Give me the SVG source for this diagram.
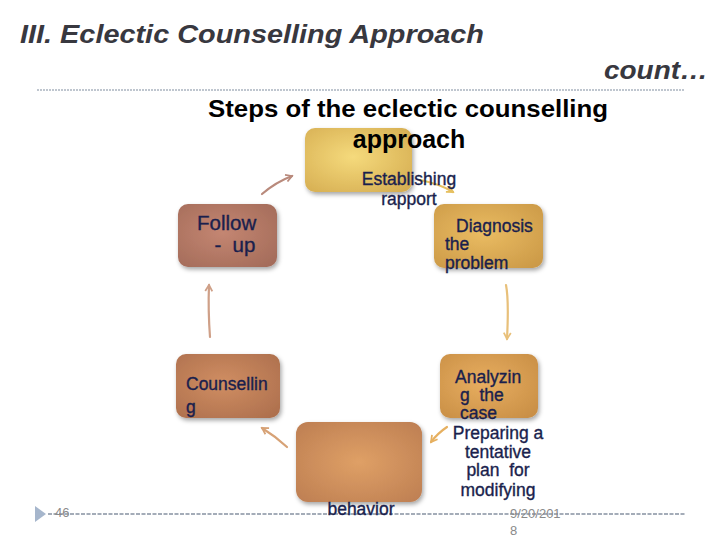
<svg xmlns="http://www.w3.org/2000/svg" width="720" height="540" viewBox="0 0 720 540">
<style>
.title{font-family:"Liberation Sans",Arial,sans-serif;font-weight:bold;font-style:italic;font-size:25px;fill:#38383f}
.sub{font-family:"Liberation Sans",Arial,sans-serif;font-weight:bold;font-size:24px;fill:#000}
.lbl{font-family:"Liberation Sans",Arial,sans-serif;font-size:17.5px;fill:#1a1f4d;stroke:#1a1f4d;stroke-width:0.35}
.foot{font-family:"Liberation Sans",Arial,sans-serif;font-size:13px;fill:#8a8a8a}
.box{filter:url(#sh)}
.conn path{fill:none;stroke-width:2.2;stroke-linecap:round}
</style>
<defs>
<filter id="sh" x="-20%" y="-20%" width="150%" height="150%">
<feDropShadow dx="1.5" dy="2.5" stdDeviation="2" flood-color="#000" flood-opacity="0.35"/>
</filter>
<radialGradient id="gY" cx="0.45" cy="0.45" r="0.7"><stop offset="0" stop-color="#f5da7c"/><stop offset="1" stop-color="#d6ae52"/></radialGradient>
<radialGradient id="gF" cx="0.45" cy="0.45" r="0.7"><stop offset="0" stop-color="#c48672"/><stop offset="1" stop-color="#a46c5a"/></radialGradient>
<radialGradient id="gD" cx="0.45" cy="0.45" r="0.7"><stop offset="0" stop-color="#eabc62"/><stop offset="1" stop-color="#cc9a48"/></radialGradient>
<radialGradient id="gC" cx="0.45" cy="0.45" r="0.7"><stop offset="0" stop-color="#d08e62"/><stop offset="1" stop-color="#ae704e"/></radialGradient>
<radialGradient id="gA" cx="0.45" cy="0.45" r="0.7"><stop offset="0" stop-color="#e8ae60"/><stop offset="1" stop-color="#c98f46"/></radialGradient>
<radialGradient id="gB" cx="0.5" cy="0.5" r="0.7"><stop offset="0" stop-color="#dfa066"/><stop offset="1" stop-color="#bd7e52"/></radialGradient>
<marker id="ah" viewBox="0 0 10 10" refX="8" refY="5" markerWidth="4" markerHeight="4" orient="auto" markerUnits="strokeWidth">
<path d="M1,1 L8,5 L1,9" fill="none" stroke="context-stroke" stroke-width="2"/>
</marker>
</defs>

<text class="title" x="20" y="43" textLength="464" lengthAdjust="spacingAndGlyphs">III. Eclectic Counselling Approach</text>
<text class="title" x="708" y="79" text-anchor="end" textLength="104" lengthAdjust="spacingAndGlyphs">count…</text>
<line x1="37" y1="90" x2="685" y2="90" stroke="#aab4c0" stroke-width="1.5" stroke-dasharray="2,1"/>

<g id="box-top" class="box"><rect x="305" y="128" width="107" height="64" rx="10" fill="url(#gY)"/></g>
<g id="box-follow" class="box"><rect x="178" y="204" width="99" height="63" rx="10" fill="url(#gF)"/></g>
<g id="box-diag" class="box"><rect x="434" y="204" width="109" height="64" rx="10" fill="url(#gD)"/></g>
<g id="box-couns" class="box"><rect x="176" y="354" width="104" height="64" rx="10" fill="url(#gC)"/></g>
<g id="box-anal" class="box"><rect x="440" y="354" width="98" height="64" rx="10" fill="url(#gA)"/></g>
<g id="box-bottom" class="box"><rect x="296" y="422" width="126" height="80" rx="12" fill="url(#gB)"/></g>

<text class="sub" x="408" y="117" text-anchor="middle" textLength="400" lengthAdjust="spacingAndGlyphs">Steps of the eclectic counselling</text>
<text class="sub" x="409" y="148" text-anchor="middle" style="font-size:25px">approach</text>

<g id="connectors" class="conn">
<path d="M262,194 Q276,182 292,176" stroke="#b98a7c" marker-end="url(#ah)"/>
<path d="M420,180 Q440,184 453,192" stroke="#e6c060" marker-end="url(#ah)"/>
<path d="M506,285 Q509,300 507,339" stroke="#e8c07a" marker-end="url(#ah)"/>
<path d="M210,337 Q208,310 209,285" stroke="#cfa088" marker-end="url(#ah)"/>
<path d="M287,447 Q275,436 262,428" stroke="#d7a276" marker-end="url(#ah)"/>
<path d="M447,427 Q438,433 431,442" stroke="#e6b060" marker-end="url(#ah)"/>
</g>

<g id="labels">
<text class="lbl" x="409" y="185" text-anchor="middle">Establishing</text>
<text class="lbl" x="409" y="205" text-anchor="middle">rapport</text>
<text class="lbl" x="197" y="230" style="font-size:20.5px">Follow</text>
<text class="lbl" x="203" y="252" style="font-size:20.5px" xml:space="preserve">  -  up</text>
<text class="lbl" x="456" y="232">Diagnosis</text>
<text class="lbl" x="445" y="250">the</text>
<text class="lbl" x="445" y="269">problem</text>
<text class="lbl" x="186" y="390">Counsellin</text>
<text class="lbl" x="186" y="413">g</text>
<text class="lbl" x="455" y="383">Analyzin</text>
<text class="lbl" x="460" y="401" xml:space="preserve">g  the</text>
<text class="lbl" x="460" y="419">case</text>
<text class="lbl" x="498" y="439" text-anchor="middle">Preparing a</text>
<text class="lbl" x="498" y="458" text-anchor="middle">tentative</text>
<text class="lbl" x="498" y="476" text-anchor="middle" xml:space="preserve">plan  for</text>
<text class="lbl" x="498" y="496" text-anchor="middle">modifying</text>
</g>

<line x1="48" y1="514" x2="685" y2="514" stroke="#a4acb8" stroke-width="1.8" stroke-dasharray="4,1.5"/>
<polygon points="35,506 46,514 35,522" fill="#a6b6cc"/>
<text class="lbl" x="361" y="515" text-anchor="middle">behavior</text>
<text class="foot" x="55" y="517">46</text>
<text class="foot" x="510" y="518">9/20/201</text>
<text class="foot" x="510" y="535">8</text>
</svg>
